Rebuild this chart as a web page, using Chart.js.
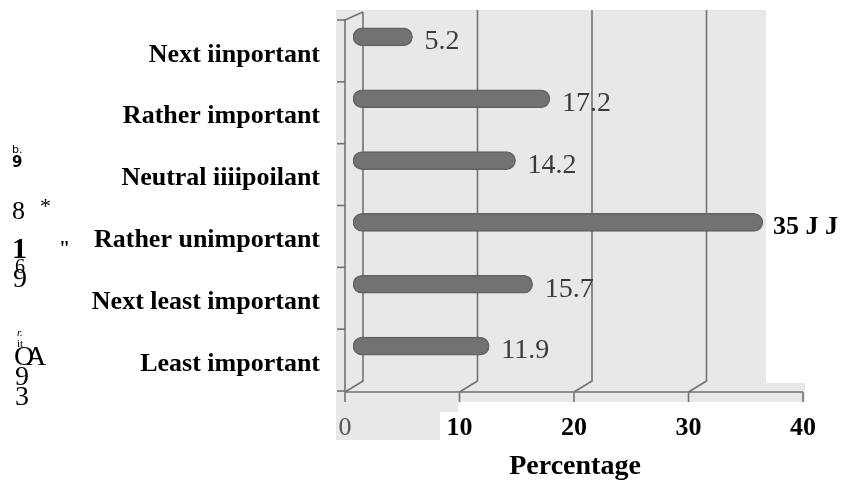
<!DOCTYPE html>
<html>
<head>
<meta charset="utf-8">
<script src="https://cdn.jsdelivr.net/npm/chart.js@4/dist/chart.umd.min.js"></script>
<style>
  html, body { margin: 0; padding: 0; background: #ffffff; }
  #wrap { width: 845px; height: 490px; position: relative; }
</style>
</head>
<body>
<div id="wrap"><canvas id="c" width="845" height="490"></canvas></div>
<script>
// Response categories, top to bottom
const categories = [
  'Next iinportant',
  'Rather important',
  'Neutral iiiipoilant',
  'Rather unimportant',
  'Next least important',
  'Least important'
];
// Share of respondents (%)
const percentages = [5.2, 17.2, 14.2, 35.8, 15.7, 11.9];
// Text printed at the end of each bar
const barLabels = ['5.2', '17.2', '14.2', '35 J J', '15.7', '11.9'];
// Horizontal axis
const xTicks = [0, 10, 20, 30, 40];
const xTitle = 'Percentage';
// Stray characters down the left margin
const marginMarks = [
  { t: 'b.', x: 12, y: 150, f: '11px "DejaVu Sans"' },
  { t: '9', x: 12, y: 163, f: 'bold 15px "DejaVu Sans"' },
  { t: '8', x: 12, y: 212, f: '26px "Liberation Serif"' },
  { t: '*', x: 40, y: 207, f: '22px "Liberation Serif"' },
  { t: '1', x: 12, y: 250, f: 'bold 30px "Liberation Serif"' },
  { t: '"', x: 59, y: 250, f: 'bold 20px "Liberation Serif"' },
  { t: '6', x: 15, y: 268, f: '20px "Liberation Serif"' },
  { t: '9', x: 13, y: 280, f: '28px "Liberation Serif"' },
  { t: 'r.', x: 17, y: 333, f: 'italic 11px "Liberation Serif"' },
  { t: 'it', x: 17, y: 344, f: '11px "Liberation Serif"' },
  { t: 'O', x: 14, y: 358, f: '28px "Liberation Serif"' },
  { t: 'A', x: 26, y: 358, f: '28px "Liberation Serif"' },
  { t: '9', x: 15, y: 378, f: '28px "Liberation Serif"' },
  { t: '3', x: 15, y: 398, f: '28px "Liberation Serif"' }
];

const SERIF = '"Liberation Serif", "Times New Roman", serif';
const LINE = '#727272';

// keep the axes from reserving room for half-labels at their ends
const noEdgePadding = s => {
  s.paddingLeft = 0; s.paddingRight = 0; s.paddingTop = 0; s.paddingBottom = 0;
};

// Grey plotting panel with the 3-D walls, gridlines and axis
const panelPlugin = {
  id: 'panel',
  beforeDraw(chart) {
    const { ctx } = chart;
    ctx.save();
    ctx.fillStyle = '#e8e8e6';
    ctx.beginPath();
    ctx.moveTo(336, 10);
    ctx.lineTo(766, 10);
    ctx.lineTo(766, 383);
    ctx.lineTo(805, 383);
    ctx.lineTo(805, 402);
    ctx.lineTo(458, 402);
    ctx.lineTo(458, 412);
    ctx.lineTo(440, 412);
    ctx.lineTo(440, 440);
    ctx.lineTo(336, 440);
    ctx.closePath();
    ctx.fill();
    ctx.restore();
  },
  beforeDatasetsDraw(chart) {
    const { ctx, chartArea: a, scales: { x } } = chart;
    ctx.save();
    ctx.strokeStyle = LINE;
    ctx.lineWidth = 1.6;
    const front = v => x.getPixelForValue(v) - 8;
    const back = v => x.getPixelForValue(v) + 10;
    const axisY = a.bottom + 15;
    const backBottom = a.bottom + 4;

    // back-wall gridlines with their floor joints
    xTicks.forEach(v => {
      const bx = back(v);
      if (bx > 766) return;
      ctx.beginPath();
      ctx.moveTo(bx, v === 0 ? 12 : 10);
      ctx.lineTo(bx, backBottom);
      ctx.lineTo(front(v), axisY);
      ctx.stroke();
    });

    // left front edge and its top joint
    const fx = front(0);
    const step = (a.bottom - a.top) / categories.length;
    ctx.beginPath();
    ctx.moveTo(back(0), 12);
    ctx.lineTo(fx, a.top + 14);
    ctx.lineTo(fx, axisY);
    ctx.stroke();
    // category tick marks on the left edge
    for (let k = 0; k <= categories.length; k++) {
      const ty = a.top + 14 + k * step;
      ctx.beginPath();
      ctx.moveTo(fx - 8, ty);
      ctx.lineTo(fx, ty);
      ctx.stroke();
    }

    // floor axis line and ticks
    ctx.beginPath();
    ctx.moveTo(fx, axisY);
    ctx.lineTo(front(40), axisY);
    ctx.stroke();
    xTicks.forEach(v => {
      ctx.beginPath();
      ctx.moveTo(front(v), axisY);
      ctx.lineTo(front(v), axisY + 10);
      ctx.stroke();
    });
    ctx.restore();
  },
  afterDatasetsDraw(chart) {
    const { ctx } = chart;
    const meta = chart.getDatasetMeta(0);
    ctx.save();
    ctx.textAlign = 'left';
    ctx.textBaseline = 'middle';
    meta.data.forEach((bar, i) => {
      const strong = i === 3;
      ctx.font = strong ? 'bold 26px ' + SERIF : '28px ' + SERIF;
      ctx.fillStyle = strong ? '#000000' : '#3a3a3a';
      ctx.fillText(barLabels[i], bar.x + (strong ? 10 : 12), bar.y + 5);
    });
    // axis title
    ctx.textAlign = 'center';
    ctx.font = 'bold 28px ' + SERIF;
    ctx.fillStyle = '#000000';
    ctx.fillText(xTitle, 575, 467);
    // margin characters
    ctx.textAlign = 'left';
    ctx.fillStyle = '#000000';
    marginMarks.forEach(m => {
      ctx.font = m.f;
      ctx.fillText(m.t, m.x, m.y);
    });
    ctx.restore();
  }
};

new Chart(document.getElementById('c'), {
  type: 'bar',
  data: {
    labels: categories,
    datasets: [{
      data: percentages,
      backgroundColor: '#727272',
      borderColor: '#626262',
      borderWidth: 1.5,
      borderSkipped: false,
      borderRadius: 9,
      barThickness: 18
    }]
  },
  options: {
    indexAxis: 'y',
    responsive: false,
    animation: false,
    layout: { padding: { top: 6, right: 34, left: 0, bottom: 0 } },
    plugins: { legend: { display: false }, tooltip: { enabled: false } },
    scales: {
      x: {
        type: 'linear',
        min: 0,
        max: 40,
        afterBuildTicks: s => { s.ticks = xTicks.map(v => ({ value: v })); },
        afterFit: s => { s.height = 113; noEdgePadding(s); },
        grid: { display: false, drawTicks: false },
        border: { display: false },
        ticks: {
          padding: 36,
          labelOffset: -8,
          maxRotation: 0,
          autoSkip: false,
          color: c => (c.index === 0 ? '#555555' : '#000000'),
          font: c => ({ family: SERIF, size: 26, weight: c.index === 0 ? 'normal' : 'bold' })
        }
      },
      y: {
        afterFit: s => { s.width = 353; noEdgePadding(s); },
        grid: { display: false, drawTicks: false },
        border: { display: false },
        ticks: {
          padding: 33,
          labelOffset: 18,
          autoSkip: false,
          color: '#000000',
          font: { family: SERIF, size: 26, weight: 'bold' }
        }
      }
    }
  },
  plugins: [panelPlugin]
});
</script>
</body>
</html>
